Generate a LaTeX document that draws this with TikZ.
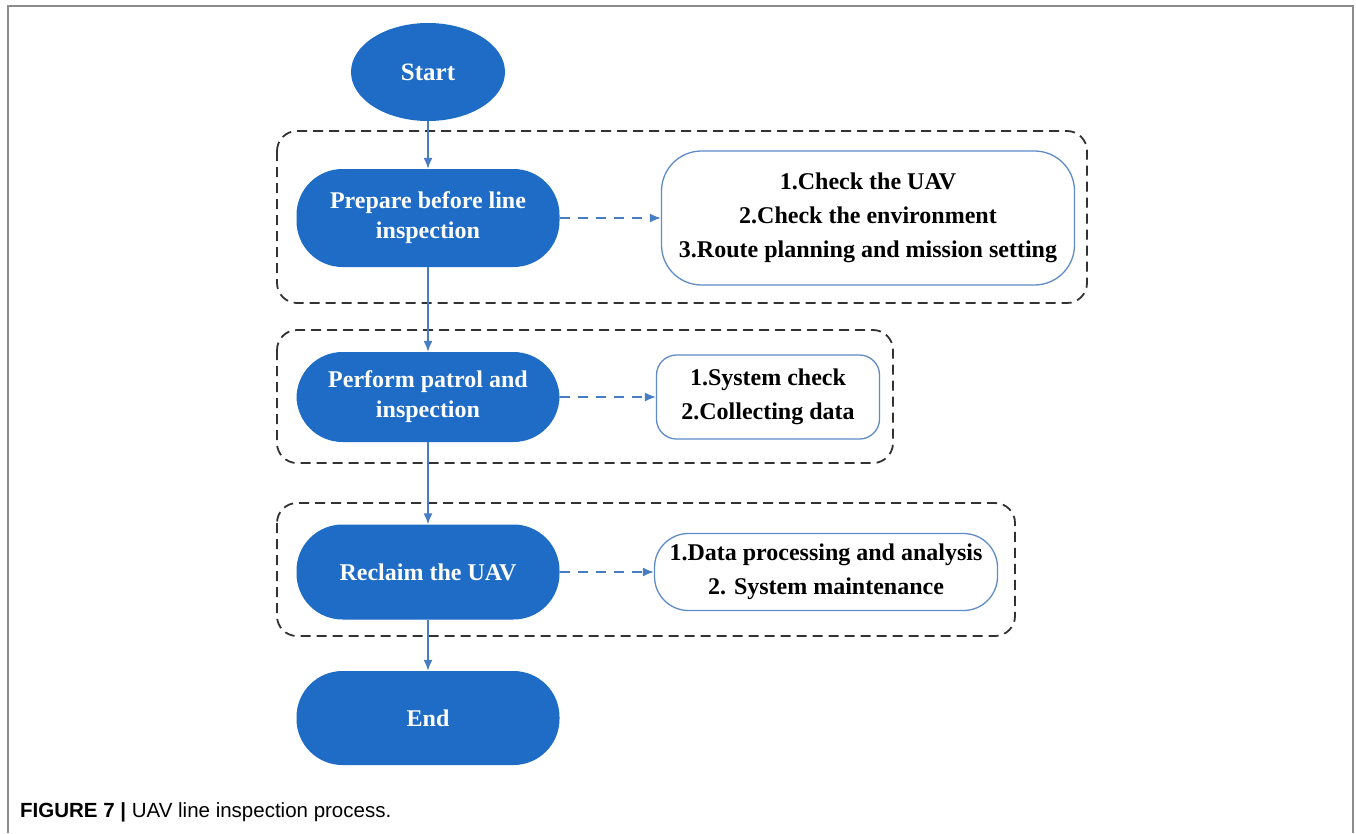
\documentclass[tikz,border=0pt]{standalone}
\usepackage{fontspec}
\setmainfont{Liberation Serif}
\newfontfamily\capfont{Liberation Sans}
\usepackage{tikz}
\usetikzlibrary{shapes.geometric, arrows.meta}

\definecolor{flowblue}{RGB}{30,108,198}
\definecolor{lineblue}{RGB}{70,125,195}
\definecolor{boxblue}{RGB}{95,140,200}
\definecolor{grpgray}{RGB}{50,50,50}

\tikzset{
  term/.style = {ellipse, fill=flowblue, text=white, font=\fontsize{25}{30}\selectfont\bfseries,
                 minimum width=154pt, minimum height=98pt, inner sep=0pt},
  proc/.style = {rectangle, rounded corners=46pt, fill=flowblue, text=white, align=center,
                 font=\fontsize{24}{30}\selectfont\bfseries, minimum width=263pt, inner sep=0pt},
  note/.style = {rectangle, draw=boxblue, line width=1.3pt, fill=white, align=center,
                 font=\fontsize{24}{34}\selectfont\bfseries, inner sep=0pt},
  group/.style = {draw=grpgray, line width=1.8pt, dash pattern=on 10pt off 6pt, rounded corners=20pt},
  flow/.style = {-{Latex[length=11pt, width=9pt]}, draw=lineblue, line width=1.5pt},
  link/.style = {-{Latex[length=11pt, width=9pt]}, draw=lineblue, line width=1.5pt, dash pattern=on 10pt off 8pt}
}

\begin{document}
\begin{tikzpicture}[x=1pt, y=-1pt]
		\useasboundingbox (0,0) rectangle (1356,833);
		\fill[white] (0,0) rectangle (1356,833);
		% page frame
		\draw[gray!90, line width=2.5pt] (8,833) -- (8,6) -- (1353,6) -- (1353,833);
		% groups
		\draw[group] (277,131) rectangle (1087,303);
		\draw[group] (277,330) rectangle (893,463);
		\draw[group] (277,503) rectangle (1015,636);
		% main flow
		\node[term] (start) at (428,72) {Start};
		\node[proc, minimum height=98pt] (prep) at (428,218) {Prepare before line\\inspection};
		\node[proc, minimum height=90pt] (perf) at (428,397) {Perform patrol and\\inspection};
		\node[proc, minimum height=95pt] (recl) at (428,572) {Reclaim the UAV};
		\node[proc, minimum height=94pt] (stop) at (428,718) {End};
		% task lists
		\node[note, minimum width=413pt, minimum height=134pt, rounded corners=40pt] (chk1) at (868,218)
			{1.Check the UAV\\2.Check the environment\\3.Route planning and mission setting};
		\node[note, minimum width=223pt, minimum height=84pt, rounded corners=20pt] (chk2) at (768,397)
			{1.System check\\2.Collecting data};
		\node[note, minimum width=343pt, minimum height=77pt, rounded corners=34pt] (chk3) at (826,572)
			{1.Data processing and analysis\\2. System maintenance};
		% connectors
		\draw[flow] (start) -- (prep);
		\draw[flow] (prep) -- (perf);
		\draw[flow] (perf) -- (recl);
		\draw[flow] (recl) -- (stop);
		\draw[link] (prep) -- (chk1);
		\draw[link] (perf) -- (chk2);
		\draw[link] (recl) -- (chk3);
		% caption
		\node[anchor=base west, inner sep=0pt, font=\capfont\fontsize{20.5}{24}\selectfont] (cap) at (20,817)
			{\textbf{FIGURE 7 |} UAV line inspection process.};
	\end{tikzpicture}
\end{document}
